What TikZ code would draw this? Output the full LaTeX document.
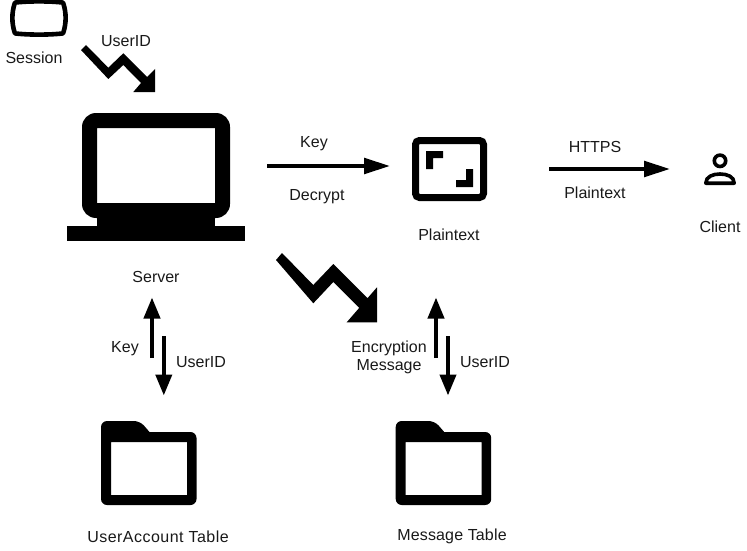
\documentclass[tikz,border=0pt]{standalone}
\usepackage{fontspec}
\setmainfont{Liberation Sans}
\usetikzlibrary{arrows.meta}
\tikzset{
  lbl/.style={inner sep=0pt,font=\fontsize{16}{18}\selectfont,align=center,text=black!90},
  flow/.style={line width=4pt,-{Triangle[length=26pt,width=15.5pt]}},
  flowv/.style={line width=4pt,-{Triangle[length=21pt,width=16pt]}},
}
\newcommand{\folderpath}[1]{%
  \fill[black,even odd rule,rounded corners=6pt]
    (#1,421) -- (#1+39,421) [sharp corners] -- (#1+48.5,432) [rounded corners=6pt] -- (#1+95.5,432) -- (#1+95.5,505) -- (#1,505) -- cycle
    [sharp corners] (#1+10,442) rectangle (#1+86,495);
}
\begin{document}
\begin{tikzpicture}[x=1pt,y=-1pt]
\useasboundingbox (0,0) rectangle (747,551);
% Session icon
\draw[line width=4.6pt,line join=round]
  (15,2.6) .. controls (28,1) and (50,1) .. (63,2.6)
  .. controls (66.5,12) and (66.5,24) .. (63,33.4)
  .. controls (50,35) and (28,35) .. (15,33.4)
  .. controls (11.5,24) and (11.5,12) .. (15,2.6) -- cycle;
\node[lbl] (session) at (34,57.5) {Session};
\node[lbl] (uid1) at (126,41.5) {UserID};
% zigzag 1
\fill (81,50) -- (86,45) -- (108.3,67.7) -- (123.3,53.3) -- (147,77) -- (155,69) -- (155,92) -- (133.3,92) -- (141,83) -- (123.3,65) -- (108.3,79) -- cycle;
% Server icon
\fill[even odd rule,rounded corners=14pt] (82,113) rectangle (230,218)
   [sharp corners] (97,128) rectangle (215,203);
\fill (97,210) rectangle (215,227);
\fill (67,226) rectangle (245,241);
\node[lbl] (server) at (156,276.5) {Server};
% Plaintext icon
\draw[line width=7pt,rounded corners=4pt] (415.5,140.5) rectangle (483.5,197.5);
\fill (426,151) -- (443,151) -- (443,158) -- (433,158) -- (433,169) -- (426,169) -- cycle;
\fill (473,169) -- (473,187) -- (456,187) -- (456,180) -- (466,180) -- (466,169) -- cycle;
\node[lbl] (plain) at (449,234.5) {Plaintext};
% Client icon
\draw[line width=3.6pt] (720,160.8) circle (5.7pt);
\draw[line width=3.6pt,line join=round] (705.8,183.2) .. controls (705.8,176.5) and (713,174) .. (720,174) .. controls (727,174) and (734.2,176.5) .. (734.2,183.2) -- cycle;
\node[lbl] (client) at (720,226.5) {Client};
% Horizontal flows
\coordinate (a1s) at (267,166); \coordinate (a1e) at (390,166);
\coordinate (a2s) at (549,169); \coordinate (a2e) at (670,169);
\draw[flow] (a1s) -- (a1e);
\draw[flow] (a2s) -- (a2e);
\node[lbl] (key1) at (314,143.5) {Key};
\node[lbl] (dec) at (317,196.5) {Decrypt};
\node[lbl] (https) at (595,146.5) {HTTPS};
\node[lbl] (plain2) at (595,192.5) {Plaintext};
% zigzag 2
\fill (276,260) -- (282,253) -- (313.3,285) -- (333.3,264) -- (367.5,298.2) -- (377,287.3) -- (377,322.3) -- (346.7,322.3) -- (359.2,307.9) -- (333.3,282) -- (313.3,303.3) -- cycle;
% Vertical flows
\coordinate (b1s) at (152,358); \coordinate (b1e) at (152,297.5);
\coordinate (b2s) at (163.8,336); \coordinate (b2e) at (163.8,395.5);
\coordinate (c1s) at (436,358); \coordinate (c1e) at (436,297.5);
\coordinate (c2s) at (448,336); \coordinate (c2e) at (448,395.5);
\draw[flowv] (b1s) -- (b1e);
\draw[flowv] (b2s) -- (b2e);
\draw[flowv] (c1s) -- (c1e);
\draw[flowv] (c2s) -- (c2e);
\node[lbl] (key2) at (125,348.5) {Key};
\node[lbl] (uid2) at (201,362.5) {UserID};
\node[lbl] (enc) at (389,357.5) {Encryption\\Message};
\node[lbl] (uid3) at (485,362.5) {UserID};
% Folders
\folderpath{101}
\folderpath{395.7}
\node[lbl] (uat) at (158,536.5) {\addfontfeatures{LetterSpace=3}UserAccount Table};
\node[lbl] (mt) at (452,536.5) {\addfontfeatures{LetterSpace=1}Message Table};
\end{tikzpicture}
\end{document}
